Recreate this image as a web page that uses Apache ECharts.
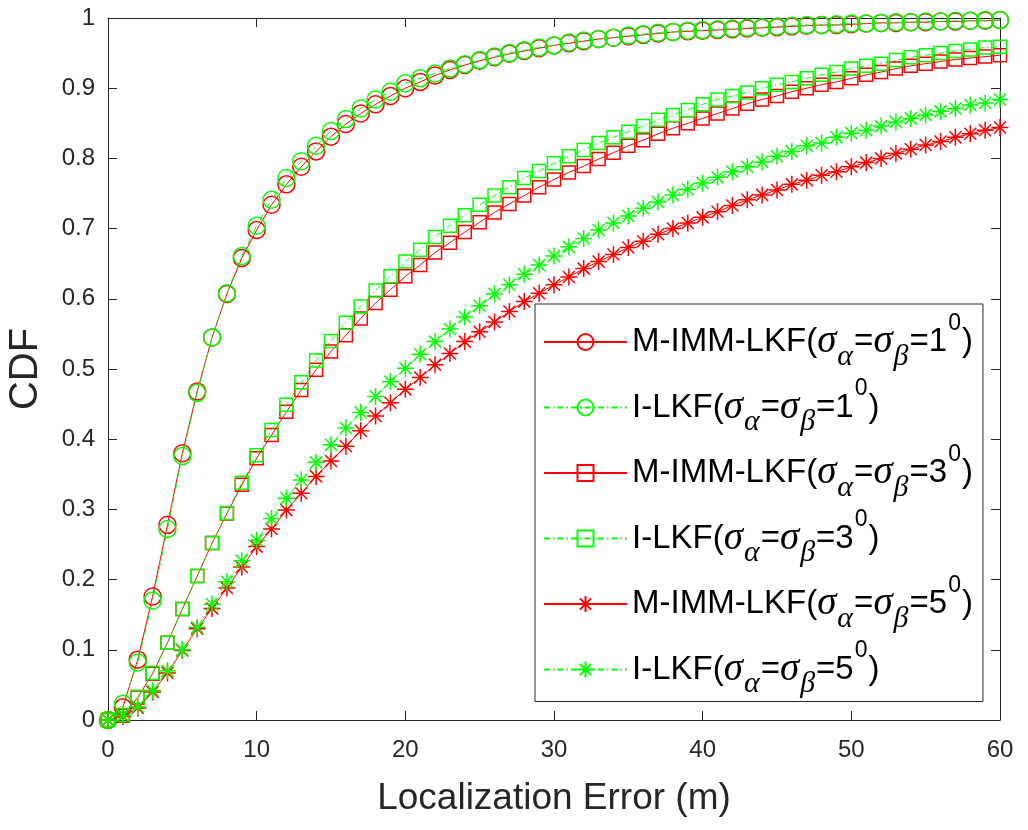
<!DOCTYPE html>
<html><head><meta charset="utf-8">
<script src="https://cdn.jsdelivr.net/npm/echarts@6/dist/echarts.min.js"></script>
<style>html,body{margin:0;padding:0;background:#fff}#c{width:1028px;height:830px}</style>
</head><body><div id="c"></div>
<script>
const errorM = [0,1,2,3,4,5,6,7,8,9,10,11,12,13,14,15,16,17,18,19,20,21,22,23,24,25,26,27,28,29,30,31,32,33,34,35,36,37,38,39,40,41,42,43,44,45,46,47,48,49,50,51,52,53,54,55,56,57,58,59,60];
const cdfMimm1 = [0,0.018,0.086,0.176,0.278,0.380,0.468,0.545,0.607,0.658,0.698,0.734,0.763,0.788,0.810,0.831,0.849,0.864,0.877,0.889,0.900,0.909,0.918,0.926,0.933,0.939,0.944,0.949,0.953,0.957,0.961,0.964,0.967,0.970,0.972,0.974,0.976,0.978,0.980,0.981,0.982,0.983,0.984,0.985,0.986,0.987,0.988,0.989,0.990,0.990,0.991,0.992,0.993,0.993,0.994,0.994,0.995,0.995,0.996,0.996,0.997];
const cdfIlkf1 = [0,0.023,0.082,0.170,0.272,0.376,0.466,0.545,0.608,0.661,0.704,0.741,0.772,0.796,0.818,0.839,0.856,0.871,0.884,0.895,0.907,0.914,0.921,0.928,0.934,0.940,0.945,0.950,0.954,0.958,0.961,0.965,0.968,0.970,0.972,0.975,0.977,0.979,0.980,0.982,0.983,0.984,0.985,0.986,0.987,0.988,0.989,0.990,0.990,0.991,0.992,0.992,0.993,0.994,0.994,0.995,0.995,0.996,0.996,0.997,0.997];
const cdfMimm3 = [0,0.006,0.032,0.066,0.110,0.158,0.205,0.252,0.294,0.335,0.373,0.406,0.439,0.470,0.499,0.525,0.548,0.572,0.594,0.613,0.632,0.648,0.666,0.680,0.695,0.709,0.723,0.735,0.747,0.759,0.770,0.780,0.789,0.799,0.808,0.818,0.826,0.835,0.843,0.850,0.857,0.864,0.871,0.878,0.884,0.889,0.895,0.900,0.905,0.909,0.914,0.919,0.923,0.928,0.932,0.935,0.938,0.941,0.943,0.945,0.947];
const cdfIlkf3 = [0,0.007,0.033,0.067,0.110,0.158,0.205,0.252,0.295,0.338,0.377,0.413,0.449,0.481,0.512,0.540,0.566,0.589,0.612,0.632,0.653,0.670,0.688,0.704,0.719,0.734,0.747,0.759,0.772,0.782,0.793,0.803,0.812,0.822,0.830,0.838,0.846,0.855,0.862,0.869,0.877,0.884,0.889,0.894,0.900,0.905,0.909,0.914,0.919,0.923,0.928,0.932,0.935,0.940,0.944,0.947,0.950,0.953,0.955,0.958,0.959];
const cdfMimm5 = [0,0.005,0.017,0.040,0.067,0.099,0.130,0.159,0.188,0.218,0.247,0.272,0.299,0.323,0.347,0.369,0.390,0.412,0.433,0.452,0.471,0.488,0.506,0.522,0.539,0.553,0.567,0.582,0.596,0.608,0.620,0.631,0.643,0.653,0.663,0.673,0.682,0.692,0.700,0.708,0.716,0.724,0.733,0.741,0.748,0.755,0.763,0.769,0.776,0.781,0.788,0.794,0.800,0.807,0.813,0.819,0.824,0.830,0.835,0.840,0.844];
const cdfIlkf5 = [0,0.006,0.019,0.042,0.070,0.100,0.132,0.165,0.197,0.227,0.256,0.287,0.316,0.342,0.367,0.392,0.416,0.438,0.461,0.482,0.501,0.521,0.539,0.557,0.574,0.590,0.607,0.620,0.635,0.648,0.661,0.674,0.686,0.698,0.708,0.718,0.729,0.738,0.748,0.756,0.765,0.773,0.781,0.788,0.795,0.803,0.810,0.818,0.822,0.830,0.836,0.840,0.846,0.852,0.857,0.862,0.867,0.871,0.876,0.879,0.884];
const methods = ['M-IMM-LKF','I-LKF','M-IMM-LKF','I-LKF','M-IMM-LKF','I-LKF'];
const degrees = ['1','1','3','3','5','5'];
const seriesData = [cdfMimm1, cdfIlkf1, cdfMimm3, cdfIlkf3, cdfMimm5, cdfIlkf5];
const xTitle = 'Localization Error (m)';
const yTitle = 'CDF';

const RED = '#ff0000', GREEN = '#00ff00', AX = '#262626';
const STAR = 'path://M10 0L10 20M0 10L20 10M2.93 2.93L17.07 17.07M17.07 2.93L2.93 17.07';
const styles = [
  {color: RED, dash: 'solid', symbol: 'circle', size: 17},
  {color: GREEN, dash: [6,3,1.5,3], symbol: 'circle', size: 17},
  {color: RED, dash: 'solid', symbol: 'rect', size: 13},
  {color: GREEN, dash: [6,3,1.5,3], symbol: 'rect', size: 13},
  {color: RED, dash: 'solid', symbol: STAR, size: 17},
  {color: GREEN, dash: [6,3,1.5,3], symbol: STAR, size: 17}
];
const names = methods.map((m, i) => m + '(σα=σβ=' + degrees[i] + '0)');

const series = seriesData.map((arr, i) => ({
  type: 'line', name: names[i],
  data: errorM.map((x, j) => [x, arr[j]]),
  symbol: styles[i].symbol, symbolSize: styles[i].size, showAllSymbol: true,
  lineStyle: {color: styles[i].color, width: 1, type: styles[i].dash},
  itemStyle: {color: 'rgba(0,0,0,0)', borderColor: styles[i].color, borderWidth: 1.5},
  emphasis: {disabled: true}, z: 2 + i
}));

const tickFont = {fontFamily: 'Liberation Sans', fontSize: 24, color: AX};
const baseAxis = {
  axisLine: {show: true, onZero: false, lineStyle: {color: AX, width: 1}},
  axisTick: {show: true, inside: true, length: 9, lineStyle: {color: AX}},
  splitLine: {show: false}
};

const chart = echarts.init(document.getElementById('c'), null, {renderer: 'canvas'});
chart.setOption({
  animation: false,
  backgroundColor: '#fff',
  grid: {left: 108, top: 18, right: 28, bottom: 110, containLabel: false, outerBoundsMode: 'none'},
  xAxis: [
    Object.assign({}, baseAxis, {type: 'value', min: 0, max: 60, interval: 10, position: 'bottom',
      axisLabel: Object.assign({margin: 18}, tickFont),
      name: xTitle, nameLocation: 'middle', nameGap: 60,
      nameTextStyle: {fontFamily: 'Liberation Sans', fontSize: 37, color: AX}}),
    Object.assign({}, baseAxis, {type: 'value', min: 0, max: 60, interval: 10, position: 'top', axisLabel: {show: false}})
  ],
  yAxis: [
    Object.assign({}, baseAxis, {type: 'value', min: 0, max: 1, interval: 0.1, position: 'left',
      axisLabel: Object.assign({margin: 13}, tickFont),
      name: yTitle, nameLocation: 'middle', nameGap: 62,
      nameTextStyle: {fontFamily: 'Liberation Sans', fontSize: 40, color: AX}}),
    Object.assign({}, baseAxis, {type: 'value', min: 0, max: 1, interval: 0.1, position: 'right', axisLabel: {show: false}})
  ],
  legend: {
    orient: 'vertical', left: 535, top: 304, selectedMode: false,
    backgroundColor: '#fff', borderColor: AX, borderWidth: 1,
    padding: [8, 10, 2, 8], itemGap: 5.5, itemWidth: 83, itemHeight: 20,
    data: names,
    formatter: function (n) {
      const i = names.indexOf(n);
      return methods[i] + '({s|σ}{sub|α}={s|σ}{sub|β}=' + degrees[i] + '{sup|0})';
    },
    textStyle: {
      fontFamily: 'Liberation Sans', fontSize: 33, color: '#000', lineHeight: 60,
      rich: {
        s: {fontFamily: 'Liberation Serif', fontStyle: 'italic', fontSize: 39, lineHeight: 60, color: '#000'},
        sub: {fontFamily: 'Liberation Serif', fontStyle: 'italic', fontSize: 30, lineHeight: 16, padding: [24, 1, 0, 1], verticalAlign: 'bottom', color: '#000'},
        sup: {fontFamily: 'Liberation Sans', fontSize: 23, lineHeight: 34, padding: [0, 1, 6, 1], verticalAlign: 'top', color: '#000'}
      }
    }
  },
  series: series
});
</script></body></html>
